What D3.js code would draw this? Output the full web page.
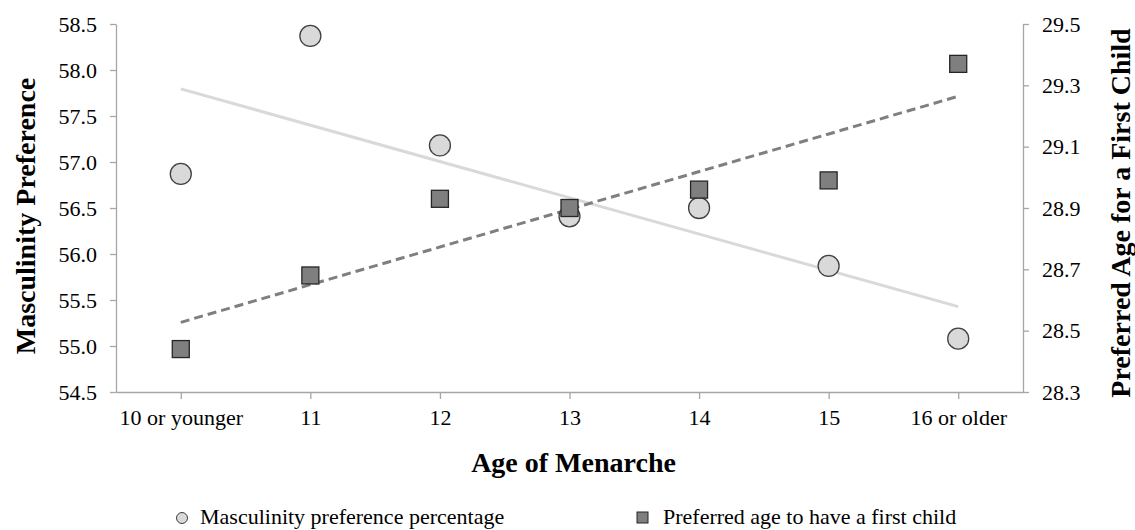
<!DOCTYPE html>
<html>
<head>
<meta charset="utf-8">
<script src="https://cdn.jsdelivr.net/npm/d3@7"></script>
<style>
  body { margin: 0; background: #fff; }
  svg text { font-family: "Liberation Serif", "Times New Roman", serif; fill: #000; }
</style>
</head>
<body>
<svg id="chart" width="1135" height="530"></svg>
<script>
// Age of menarche vs masculinity preference / preferred age for first child
var categories = ["10 or younger", "11", "12", "13", "14", "15", "16 or older"];
var masculinity = [56.87, 58.37, 57.18, 56.41, 56.50, 55.87, 55.08];
var firstChildAge = [28.44, 28.68, 28.93, 28.90, 28.96, 28.99, 29.37];
var leftTicks = [54.5, 55.0, 55.5, 56.0, 56.5, 57.0, 57.5, 58.0, 58.5];
var rightTicks = [28.3, 28.5, 28.7, 28.9, 29.1, 29.3, 29.5];

var svg = d3.select("#chart"),
    margin = {top: 24, right: 112, bottom: 138, left: 116},
    width = 1135 - margin.left - margin.right,
    height = 530 - margin.top - margin.bottom,
    axisColor = "#a6a6a6";

var g = svg.append("g").attr("transform", "translate(" + margin.left + "," + margin.top + ")");

var x = d3.scalePoint().domain(categories).range([0, width]).padding(0.5);
var yL = d3.scaleLinear().domain([54.5, 58.5]).range([height, 0]);
var yR = d3.scaleLinear().domain([28.3, 29.5]).range([height, 0]);

// least squares trendline, Excel style (x = 1..n)
function trend(vals) {
  var n = vals.length, mx = (n + 1) / 2, my = d3.mean(vals), sxy = 0, sxx = 0;
  vals.forEach(function(v, i) { sxy += (i + 1 - mx) * (v - my); sxx += (i + 1 - mx) * (i + 1 - mx); });
  var b = sxy / sxx, a = my - b * mx;
  return [[categories[0], a + b], [categories[n - 1], a + b * n]];
}

function styleAxis(sel) {
  sel.select(".domain").attr("stroke", axisColor).attr("stroke-width", 1.3);
  sel.selectAll(".tick line").attr("stroke", axisColor).attr("stroke-width", 1.3);
  sel.selectAll(".tick text").style("font-size", "22px").attr("fill", "#000");
}

g.append("g")
    .attr("transform", "translate(0," + height + ")")
    .call(d3.axisBottom(x).tickSize(7).tickSizeOuter(0).tickPadding(10))
    .call(styleAxis);

g.append("g")
    .call(d3.axisLeft(yL).tickValues(leftTicks).tickFormat(d3.format(".1f")).tickSize(6).tickSizeOuter(0).tickPadding(13))
    .call(styleAxis);

g.append("g")
    .attr("transform", "translate(" + width + ",0)")
    .call(d3.axisRight(yR).tickValues(rightTicks).tickFormat(d3.format(".1f")).tickSize(6).tickSizeOuter(0).tickPadding(13))
    .call(styleAxis);

// trendlines
var tL = trend(masculinity), tR = trend(firstChildAge);
g.append("line")
    .attr("x1", x(tL[0][0])).attr("y1", yL(tL[0][1]))
    .attr("x2", x(tL[1][0])).attr("y2", yL(tL[1][1]))
    .attr("stroke", "#d9d9d9").attr("stroke-width", 3);
g.append("line")
    .attr("x1", x(tR[0][0])).attr("y1", yR(tR[0][1]))
    .attr("x2", x(tR[1][0])).attr("y2", yR(tR[1][1]))
    .attr("stroke", "#7f7f7f").attr("stroke-width", 3).attr("stroke-dasharray", "9,5");

// markers
g.selectAll("circle.m")
  .data(masculinity)
  .enter().append("circle")
    .attr("class", "m")
    .attr("cx", function(d, i) { return x(categories[i]); })
    .attr("cy", function(d) { return yL(d); })
    .attr("r", 10.5)
    .attr("fill", "#d9d9d9").attr("stroke", "#404040").attr("stroke-width", 1.3);

var sq = 17;
g.selectAll("rect.a")
  .data(firstChildAge)
  .enter().append("rect")
    .attr("class", "a")
    .attr("x", function(d, i) { return x(categories[i]) - sq / 2; })
    .attr("y", function(d) { return yR(d) - sq / 2; })
    .attr("width", sq).attr("height", sq)
    .attr("fill", "#7f7f7f").attr("stroke", "#262626").attr("stroke-width", 1.3);

// axis titles
svg.append("text")
    .attr("transform", "translate(35," + (margin.top + height / 2 + 8) + ") rotate(-90)")
    .attr("text-anchor", "middle")
    .style("font-size", "28px").style("font-weight", "bold")
    .text("Masculinity Preference");

svg.append("text")
    .attr("transform", "translate(1130," + (margin.top + height / 2 + 5) + ") rotate(-90)")
    .attr("text-anchor", "middle")
    .style("font-size", "28px").style("font-weight", "bold")
    .text("Preferred Age for a First Child");

svg.append("text")
    .attr("x", margin.left + width / 2 + 4).attr("y", 472)
    .attr("text-anchor", "middle")
    .style("font-size", "28px").style("font-weight", "bold")
    .text("Age of Menarche");

// legend
var legend = svg.append("g");
legend.append("circle")
    .attr("cx", 182).attr("cy", 518).attr("r", 5.5)
    .attr("fill", "#d9d9d9").attr("stroke", "#404040").attr("stroke-width", 1);
legend.append("text").attr("x", 200).attr("y", 524).style("font-size", "22px")
    .text("Masculinity preference percentage");
legend.append("rect")
    .attr("x", 637).attr("y", 512).attr("width", 11).attr("height", 11)
    .attr("fill", "#7f7f7f").attr("stroke", "#262626").attr("stroke-width", 1);
legend.append("text").attr("x", 663).attr("y", 524).style("font-size", "22px")
    .text("Preferred age to have a first child");
</script>
</body>
</html>
